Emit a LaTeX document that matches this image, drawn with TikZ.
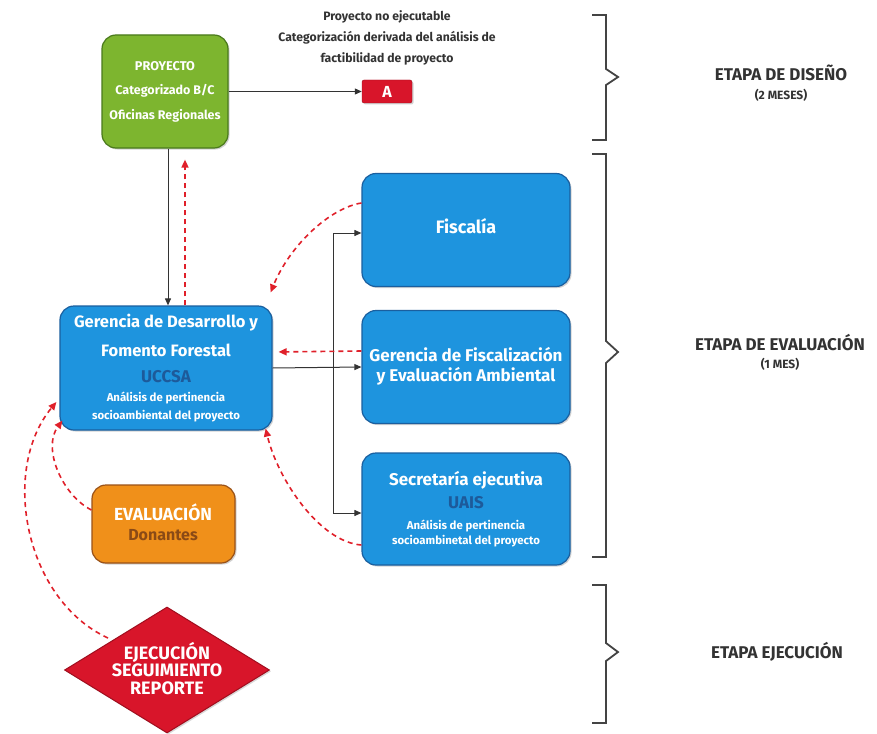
\documentclass[tikz,border=0pt]{standalone}
\usepackage{fontspec}
\setmainfont{Fira Sans}
\usetikzlibrary{shapes.geometric,shadows,arrows.meta}
\definecolor{gfill}{HTML}{7DB52F}
\definecolor{gline}{HTML}{4A7A1C}
\definecolor{bfill}{HTML}{1E94DE}
\definecolor{bline}{HTML}{1A5F9F}
\definecolor{bdark}{HTML}{1D5A9A}
\definecolor{ofill}{HTML}{F0901A}
\definecolor{oline}{HTML}{9A5218}
\definecolor{brown}{HTML}{8A4A16}
\definecolor{rfill}{HTML}{D8152A}
\definecolor{rline}{HTML}{A00E1E}
\definecolor{dashred}{HTML}{E0202A}
\definecolor{ink}{HTML}{333333}
\definecolor{brk}{HTML}{444444}
\tikzset{
  box/.style={draw=#1, line width=1.2pt, rounded corners=14pt, drop shadow={opacity=0.35, shadow xshift=1.5pt, shadow yshift=-1.5pt}},
  wt/.style={text=white, font=\bfseries\fontsize{#1}{#1}\selectfont, inner sep=0pt},
  ct/.style={text=#1, inner sep=0pt},
  solidarr/.style={draw=ink, line width=1pt, -{Triangle[length=7pt,width=6pt]}},
  dasharr/.style={draw=dashred, line width=1.6pt, dash pattern=on 5pt off 4pt, -{Triangle[length=8pt,width=7pt]}},
  brace/.style={draw=brk, line width=1.8pt},
  stage/.style={text=ink, font=\bfseries\fontsize{17}{17}\selectfont, inner sep=0pt},
  stagesub/.style={text=ink, font=\bfseries\fontsize{12}{12}\selectfont, inner sep=0pt},
  note/.style={text=ink, font=\bfseries\fontsize{12.2}{12.2}\selectfont, inner sep=0pt}
}
\begin{document}
\begin{tikzpicture}[x=1pt,y=-1pt]
\useasboundingbox[fill=white] (0,0) rectangle (877,733);

% boxes
\node[box=gline, fill=gfill, minimum width=126pt, minimum height=113pt] (proy) at (165,91.5) {};
\node[draw=rline, fill=rfill, rounded corners=2pt, minimum width=50pt, minimum height=23pt, inner sep=0pt, drop shadow={opacity=0.35, shadow xshift=1.5pt, shadow yshift=-1.5pt}, text=white, font=\bfseries\fontsize{16}{16}\selectfont] (A) at (387,91.5) {A};
\node[box=bline, fill=bfill, minimum width=212pt, minimum height=124pt] (gdf) at (166,368) {};
\node[box=bline, fill=bfill, minimum width=208pt, minimum height=113pt] (fisc) at (466,230) {};
\node[box=bline, fill=bfill, minimum width=208pt, minimum height=113pt] (gfe) at (466,367) {};
\node[box=bline, fill=bfill, minimum width=208pt, minimum height=112pt] (sec) at (466,509) {};
\node[box=oline, fill=ofill, minimum width=143pt, minimum height=78pt] (eval) at (163.5,524) {};
\node[diamond, draw=rline, line width=1pt, fill=rfill, minimum width=205pt, minimum height=126pt, inner sep=0pt, aspect=1.6, drop shadow={opacity=0.3, shadow xshift=1.5pt, shadow yshift=-1.5pt}] (ejec) at (167,670) {};

% texts in boxes
\node[wt=12.7] (proy1) at (165,66) {PROYECTO};
\node[wt=12.5] (proy2) at (165,91) {Categorizado B/C};
\node[wt=12.5] (proy3) at (165,116) {Oficinas Regionales};

\node[wt=16.5] (gdf1) at (166,323) {Gerencia de Desarrollo y};
\node[wt=16.5] (gdf2) at (166,350) {Fomento Forestal};
\node[ct=bdark, font=\bfseries\fontsize{17}{17}\selectfont] (gdf3) at (166,377) {UCCSA};
\node[wt=11.4] (gdf4) at (166,398) {Análisis de pertinencia};
\node[wt=11.4] (gdf5) at (166,416) {socioambiental del proyecto};

\node[wt=18] (fisc1) at (466,226) {Fiscalía};

\node[wt=17] (gfe1) at (466,355) {Gerencia de Fiscalización};
\node[wt=17] (gfe2) at (466,376) {y Evaluación Ambiental};

\node[wt=17] (sec1) at (466,480) {Secretaría ejecutiva};
\node[ct=bdark, font=\bfseries\fontsize{17}{17}\selectfont] (sec2) at (466,503) {UAIS};
\node[wt=11.4] (sec3) at (466,526) {Análisis de pertinencia};
\node[wt=11.4] (sec4) at (466,541) {socioambinetal del proyecto};

\node[wt=17.5] (eval1) at (163,512) {EVALUACIÓN};
\node[ct=brown, font=\bfseries\fontsize{16}{16}\selectfont] (eval2) at (163,535) {Donantes};

\node[wt=18] (ej1) at (167,652) {EJECUCIÓN};
\node[wt=18] (ej2) at (167,670) {SEGUIMIENTO};
\node[wt=18] (ej3) at (167,688) {REPORTE};

% note
\node[note] (n1) at (387,17) {Proyecto no ejecutable};
\node[note] (n2) at (387,38) {Categorización derivada del análisis de};
\node[note] (n3) at (387,59) {factibilidad de proyecto};

% stage labels
\node[stage] (s1) at (781,73) {ETAPA DE DISEÑO};
\node[stagesub] (s1b) at (781,95) {(2 MESES)};
\node[stage] (s2) at (780,343) {ETAPA DE EVALUACIÓN};
\node[stagesub] (s2b) at (780,364) {(1 MES)};
\node[stage] (s3) at (777,652) {ETAPA EJECUCIÓN};

% braces
\draw[brace] (592,15) -- (606,15) -- (606,69) -- (618,77) -- (606,85) -- (606,140) -- (592,140);
\draw[brace] (592,154) -- (606,154) -- (606,341) -- (618,352) -- (606,363) -- (606,557) -- (592,557);
\draw[brace] (592,585) -- (606,585) -- (606,643) -- (618,652) -- (606,661) -- (606,723) -- (592,723);

% solid connectors
\draw[solidarr] (proy.east) -- (A.west);
\draw[solidarr] ([xshift=3pt]proy.south) -- ([xshift=3pt]proy.south |- gdf.north);
\draw[solidarr] (gdf.east) -- (gfe.west);
\coordinate (sp1) at (333,233);
\coordinate (sp2) at (333,513);
\draw[draw=ink, line width=1pt] (sp1) -- (sp2);
\draw[solidarr] (sp1) -- (sp1 -| fisc.west);
\draw[solidarr] (sp2) -- (sp2 -| sec.west);

% dashed feedback connectors
\draw[dasharr, shorten >=11pt] ([xshift=20pt]proy.south |- gdf.north) -- ([xshift=20pt]proy.south);
\draw[dasharr] ([yshift=27pt]fisc.west) .. controls (330,208) and (290,245) .. ([xshift=-2pt,yshift=13pt]gdf.north east);
\draw[dasharr, shorten >=6pt] ([yshift=16pt]gfe.west) -- ([yshift=16pt]gdf.east);
\draw[dasharr] ([yshift=-36pt]sec.west) .. controls (320,542) and (278,480) .. ([xshift=-7pt,yshift=2pt]gdf.south east);
\draw[dasharr] ([yshift=14pt]eval.west) .. controls (62,495) and (42,448) .. ([xshift=3pt,yshift=10pt]gdf.south west);
\draw[dasharr] (108,638) .. controls (25,600) and (0,470) .. ([xshift=-3pt,yshift=-34pt]gdf.west);
\end{tikzpicture}
\end{document}
